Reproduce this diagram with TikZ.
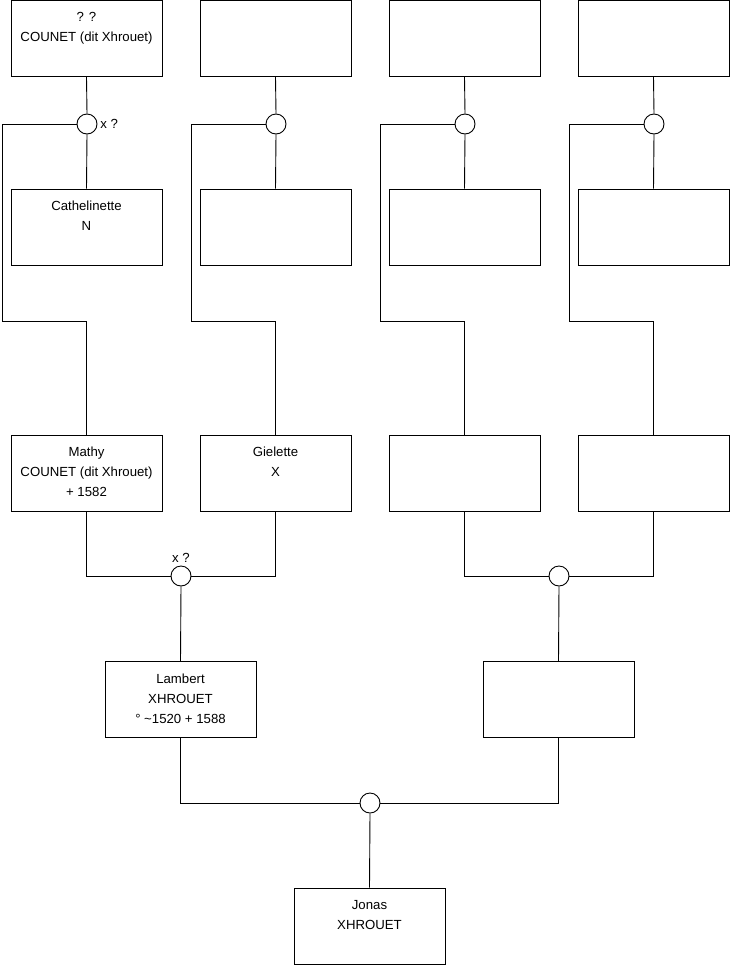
\documentclass[tikz,border=0pt]{standalone}
\usepackage{fontspec}
\setmainfont{Liberation Sans}
\begin{document}
\begin{tikzpicture}[x=1pt,y=-1pt,line width=0.9pt,
  pbox/.style={draw,rectangle,inner sep=0pt,minimum width=151pt,minimum height=76pt},
  union/.style={draw,circle,fill=white,inner sep=0pt,minimum size=20pt},
  lab/.style={font=\fontsize{13.2}{20}\selectfont,inner sep=0pt}]
\useasboundingbox (0,0) rectangle (740,975);
\newcommand{\bx}[1]{\parbox[c][76pt][t]{151pt}{\centering\fontsize{13.2}{20}\selectfont\vspace*{12pt}#1\par}}
% row 1
\node[pbox] (a1) at (86.5,38.5) {\bx{? ?\\COUNET (dit Xhrouet)}};
\node[pbox] (a2) at (275.5,38.5) {\bx{}};
\node[pbox] (a3) at (464.5,38.5) {\bx{}};
\node[pbox] (a4) at (653.5,38.5) {\bx{}};
% unions row 1
\node[union] (u1) at (87,124) {};
\node[union] (u2) at (276,124) {};
\node[union] (u3) at (465,124) {};
\node[union] (u4) at (654,124) {};
\node[lab,anchor=west] (lx1) at (100,124) {x ?};
% row 2
\node[pbox] (b1) at (86.5,227) {\bx{Cathelinette\\N}};
\node[pbox] (b2) at (275.5,227) {\bx{}};
\node[pbox] (b3) at (464.5,227) {\bx{}};
\node[pbox] (b4) at (653.5,227) {\bx{}};
% row 3
\node[pbox] (c1) at (86.5,473) {\bx{Mathy\\COUNET (dit Xhrouet)\\+ 1582}};
\node[pbox] (c2) at (275.5,473) {\bx{Gielette\\X}};
\node[pbox] (c3) at (464.5,473) {\bx{}};
\node[pbox] (c4) at (653.5,473) {\bx{}};
% row 3 unions
\node[union] (v1) at (181,576) {};
\node[union] (v2) at (559,576) {};
\node[lab] (lx2) at (181,558) {x ?};
% row 4
\node[pbox] (d1) at (180.5,699.5) {\bx{Lambert\\XHROUET\\° \textasciitilde1520 + 1588}};
\node[pbox] (d2) at (558.5,699.5) {\bx{}};
\node[union] (w1) at (370,803) {};
\node[pbox] (e1) at (369.5,926) {\bx{Jonas\\XHROUET}};
% corner coordinates
\coordinate (k1) at (2,321);
\coordinate (k2) at (191,321);
\coordinate (k3) at (380,321);
\coordinate (k4) at (569,321);
% connectors top
\foreach \i in {1,2,3,4}{
  \draw (a\i.south) -- (u\i.north);
  \draw (u\i.south) -- (b\i.north);
  \draw (u\i.west) -| (k\i) -| (c\i.north);
}
\draw (c1.south) |- (v1.west);
\draw (c2.south) |- (v1.east);
\draw (c3.south) |- (v2.west);
\draw (c4.south) |- (v2.east);
\draw (v1.south) -- (d1.north);
\draw (v2.south) -- (d2.north);
\draw (d1.south) |- (w1.west);
\draw (d2.south) |- (w1.east);
\draw (w1.south) -- (e1.north);
\end{tikzpicture}
\end{document}
